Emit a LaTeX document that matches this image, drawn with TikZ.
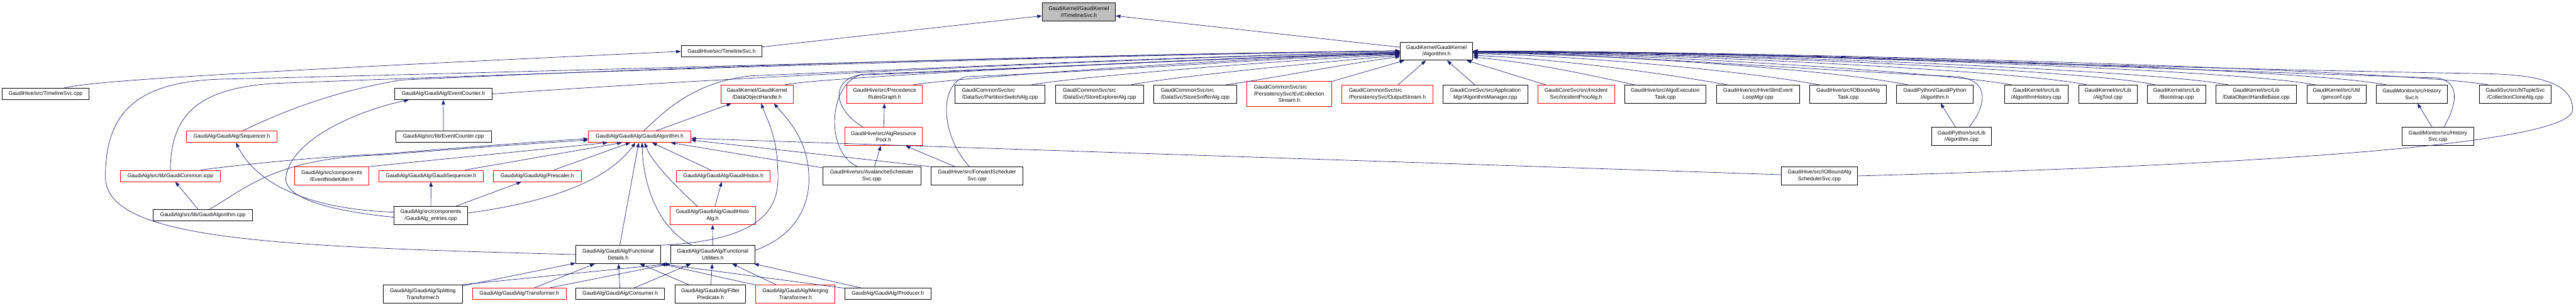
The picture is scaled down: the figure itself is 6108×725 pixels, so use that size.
\documentclass[tikz,border=0pt]{standalone}
\usepackage{fontspec}
\setmainfont{Liberation Sans}
\usetikzlibrary{arrows.meta}
\definecolor{dxedge}{HTML}{191970}
\definecolor{dxred}{HTML}{FF0000}
\definecolor{dxgray}{HTML}{BFBFBF}

\begin{document}
\begin{tikzpicture}[x=0.5pt, y=0.5pt,
        fnode/.style={draw=black, line width=0.6pt, fill=white, align=center, inner xsep=0pt, inner ysep=0pt,
                      minimum height=13.5pt, font=\fontsize{6.3}{7.9}\selectfont},
        rnode/.style={fnode, draw=dxred},
        tnode/.style={fnode, fill=dxgray},
        two/.style={minimum height=21.5pt},
        three/.style={minimum height=29.5pt},
        wd/.style={minimum width=#1*0.5pt},
        dep/.style={-{Triangle[length=5.5pt,width=4pt]}, draw=dxedge, line width=0.5pt}
      ]
        \useasboundingbox (0,-725) rectangle (6108,0);

        \node[tnode, two, wd=174] (itl)  at (2558,-28)    {GaudiKernel/GaudiKernel\\/ITimelineSvc.h};
        \node[fnode, wd=192]      (tsh)  at (1711,-122)   {GaudiHive/src/TimelineSvc.h};
        \node[fnode, two, wd=172] (algh) at (3406,-121.5) {GaudiKernel/GaudiKernel\\/Algorithm.h};

        \node[fnode, wd=205]      (tsc)  at (108,-223)    {GaudiHive/src/TimelineSvc.cpp};
        \node[fnode, wd=232]      (ech)  at (1051,-223)   {GaudiAlg/GaudiAlg/EventCounter.h};
        \node[rnode, two, wd=172] (doh)  at (1795,-223.5) {GaudiKernel/GaudiKernel\\/DataObjectHandle.h};
        \node[rnode, two, wd=179] (prg)  at (2097.5,-223.5) {GaudiHive/src/Precedence\\RulesGraph.h};
        \node[fnode, two, wd=214, align=left] (psa) at (2371,-223.5) {GaudiCommonSvc/src\\/DataSvc/PartitionSwitchAlg.cpp};
        \node[fnode, two, wd=208, align=left] (sea) at (2607,-223.5) {GaudiCommonSvc/src\\/DataSvc/StoreExplorerAlg.cpp};
        \node[fnode, two, wd=198, align=left] (ssa) at (2834,-223.5) {GaudiCommonSvc/src\\/DataSvc/StoreSnifferAlg.cpp};
        \node[rnode, three, wd=201, align=left] (ecs) at (3056.5,-222.5) {GaudiCommonSvc/src\\/PersistencySvc/EvtCollection\\\hspace*{29pt}Stream.h};
        \node[rnode, two, wd=217, align=left] (osh) at (3289.5,-223.5) {GaudiCommonSvc/src\\/PersistencySvc/OutputStream.h};
        \node[fnode, two, wd=200] (amc)  at (3522,-223.5) {GaudiCoreSvc/src/Application\\Mgr/AlgorithmManager.cpp};
        \node[rnode, two, wd=182] (ipa)  at (3737,-223.5) {GaudiCoreSvc/src/Incident\\Svc/IncidentProcAlg.h};
        \node[fnode, two, wd=193] (aet)  at (3948.5,-223.5) {GaudiHive/src/AlgoExecution\\Task.cpp};
        \node[fnode, two, wd=197] (hsl)  at (4168.5,-223.5) {GaudiHive/src/HiveSlimEvent\\LoopMgr.cpp};
        \node[fnode, two, wd=182] (iot)  at (4382,-223.5) {GaudiHive/src/IOBoundAlg\\Task.cpp};
        \node[fnode, two, wd=181] (gph)  at (4587.5,-223.5) {GaudiPython/GaudiPython\\/Algorithm.h};
        \node[fnode, two, wd=150] (ahc)  at (4828,-223.5) {GaudiKernel/src/Lib\\/AlgorithmHistory.cpp};
        \node[fnode, two, wd=138] (atc)  at (4998,-223.5) {GaudiKernel/src/Lib\\/AlgTool.cpp};
        \node[fnode, two, wd=138] (bsc)  at (5161,-223.5) {GaudiKernel/src/Lib\\/Bootstrap.cpp};
        \node[fnode, two, wd=191] (dhb)  at (5349.5,-223.5) {GaudiKernel/src/Lib\\/DataObjectHandleBase.cpp};
        \node[fnode, two, wd=140] (gcc)  at (5540,-223.5) {GaudiKernel/src/Util\\/genconf.cpp};
        \node[fnode, two, wd=169] (hsh)  at (5718.5,-223.5) {GaudiMonitor/src/History\\Svc.h};
        \node[fnode, two, wd=170] (cca)  at (5964,-223.5) {GaudiSvc/src/NTupleSvc\\/CollectionCloneAlg.cpp};

        \node[rnode, wd=215]      (seq)  at (549.5,-324.5) {GaudiAlg/GaudiAlg/Sequencer.h};
        \node[fnode, wd=227]      (ecc)  at (1051.5,-324.5) {GaudiAlg/src/lib/EventCounter.cpp};
        \node[rnode, wd=243]      (gah)  at (1516.5,-324.5) {GaudiAlg/GaudiAlg/GaudiAlgorithm.h};
        \node[rnode, two, wd=184] (arp)  at (2095,-324)   {GaudiHive/src/AlgResource\\Pool.h};
        \node[fnode, two, wd=142] (gpc)  at (4651,-324)   {GaudiPython/src/Lib\\/Algorithm.cpp};
        \node[fnode, two, wd=169] (hsc)  at (5780.5,-324) {GaudiMonitor/src/History\\Svc.cpp};

        \node[rnode, wd=236]      (gci)  at (404,-417.5)  {GaudiAlg/src/lib/GaudiCommon.icpp};
        \node[rnode, two, wd=175] (enk)  at (786.5,-417.5) {GaudiAlg/src/components\\/EventNodeKiller.h};
        \node[rnode, wd=248]      (gsq)  at (1022,-417.5) {GaudiAlg/GaudiAlg/GaudiSequencer.h};
        \node[rnode, wd=208]      (psc)  at (1274,-417.5) {GaudiAlg/GaudiAlg/Prescaler.h};
        \node[rnode, wd=222]      (ghs)  at (1715,-417.5) {GaudiAlg/GaudiAlg/GaudiHistos.h};
        \node[fnode, two, wd=232] (asc)  at (2067,-417.5) {GaudiHive/src/AvalancheScheduler\\Svc.cpp};
        \node[fnode, two, wd=219] (fsc)  at (2316.5,-417.5) {GaudiHive/src/ForwardScheduler\\Svc.cpp};
        \node[fnode, two, wd=180] (ibs)  at (4314,-417.5) {GaudiHive/src/IOBoundAlg\\SchedulerSvc.cpp};

        \node[fnode, wd=236]      (gac)  at (481,-510.5)  {GaudiAlg/src/lib/GaudiAlgorithm.cpp};
        \node[fnode, two, wd=175] (gae)  at (1021.5,-511.5) {GaudiAlg/src/components\\/GaudiAlg\_entries.cpp};
        \node[rnode, two, wd=203] (gha)  at (1689.5,-511.5) {GaudiAlg/GaudiAlg/GaudiHisto\\Alg.h};

        \node[fnode, two, wd=201] (fdh)  at (1465.5,-604) {GaudiAlg/GaudiAlg/Functional\\Details.h};
        \node[fnode, two, wd=200] (fuh)  at (1690,-604)   {GaudiAlg/GaudiAlg/Functional\\Utilities.h};

        \node[fnode, two, wd=187] (sth)  at (1002.5,-697.5) {GaudiAlg/GaudiAlg/Splitting\\Transformer.h};
        \node[rnode, wd=222]      (trh)  at (1231,-697.5) {GaudiAlg/GaudiAlg/Transformer.h};
        \node[fnode, wd=211]      (coh)  at (1470.5,-697.5) {GaudiAlg/GaudiAlg/Consumer.h};
        \node[fnode, two, wd=167] (fph)  at (1684.5,-697.5) {GaudiAlg/GaudiAlg/Filter\\Predicate.h};
        \node[rnode, two, wd=188] (mth)  at (1886,-697.5) {GaudiAlg/GaudiAlg/Merging\\Transformer.h};
        \node[fnode, wd=204]      (prh)  at (2105,-697.5) {GaudiAlg/GaudiAlg/Producer.h};

        \draw[dep] (tsh) -- (itl);
        \draw[dep] (algh) -- (itl);
        \draw[dep] ([xshift=22pt]tsc.north) .. controls (200,-196) and (400,-178) .. (tsh.west);

        \draw[dep] (ech.east) .. controls (1700,-186) and (2600,-140) .. ([yshift=-1pt]algh.west);
        \draw[dep] (gci.north) .. controls (405,-280) and (460,-210) .. (650,-198) .. controls (1500,-165) and (2700,-128) .. (algh.west);
        \draw[dep] ([xshift=13pt]seq.north) .. controls (700,-250) and (820,-212) .. (950,-190) .. controls (1800,-150) and (2700,-128) .. ([yshift=0.5pt]algh.west);
        \draw[dep] (fdh.west) .. controls (650,-585) and (250,-570) .. (250,-420) .. controls (250,-270) and (320,-195) .. (520,-188) .. controls (1500,-165) and (2700,-126) .. (algh.west);
        \draw[dep] ([xshift=5pt]gah.north) .. controls (1570,-270) and (1640,-195) .. (1780,-180) .. controls (2300,-158) and (2900,-130) .. ([yshift=-1.5pt]algh.west);
        \draw[dep] ([xshift=33pt]doh.north) .. controls (1920,-185) and (2800,-140) .. ([yshift=-2pt]algh.west);
        \draw[dep] ([xshift=34pt]prg.north) .. controls (2260,-185) and (2900,-140) .. ([yshift=-2pt]algh.west);
        \draw[dep] ([xshift=-24pt]arp.north) .. controls (1975,-260) and (1965,-185) .. (2050,-176) .. controls (2500,-160) and (3000,-132) .. ([yshift=-2.5pt]algh.west);
        \draw[dep] ([xshift=-17pt]asc.north) .. controls (1955,-360) and (1965,-200) .. (2040,-178) .. controls (2500,-160) and (3000,-133) .. ([yshift=-3pt]algh.west);
        \draw[dep] ([xshift=-9pt]fsc.north) .. controls (2230,-320) and (2225,-200) .. (2290,-182) .. controls (2700,-165) and (3050,-135) .. ([yshift=-3.5pt]algh.west);
        \draw[dep] ([xshift=37pt]psa.north) .. controls (2530,-185) and (3000,-145) .. ([yshift=-4pt]algh.west);
        \draw[dep] ([xshift=37pt]sea.north) .. controls (2760,-185) and (3100,-150) .. ([yshift=-5pt]algh.west);
        \draw[dep] ([xshift=36pt]ssa.north) .. controls (2990,-190) and (3200,-150) .. ([yshift=-6.5pt]algh.west);
        \draw[dep] (ecs) -- (algh);
        \draw[dep] (osh) -- (algh);
        \draw[dep] (amc) -- (algh);
        \draw[dep] (ipa) -- (algh);
        \draw[dep] ([xshift=-36pt]aet.north) .. controls (3800,-185) and (3650,-150) .. ([yshift=-7pt]algh.east);
        \draw[dep] ([xshift=-36pt]hsl.north) .. controls (3950,-175) and (3700,-140) .. ([yshift=-5pt]algh.east);
        \draw[dep] ([xshift=-34pt]iot.north) .. controls (4150,-170) and (3750,-132) .. ([yshift=-3pt]algh.east);
        \draw[dep] ([xshift=-32pt]gph.north) .. controls (4350,-165) and (3800,-128) .. ([yshift=-2pt]algh.east);
        \draw[dep] ([xshift=9pt]gpc.north) .. controls (4710,-250) and (4720,-190) .. (4640,-182) .. controls (4200,-160) and (3800,-128) .. ([yshift=-1.5pt]algh.east);
        \draw[dep] ([xshift=-29pt]ahc.north) .. controls (4600,-170) and (3900,-128) .. ([yshift=-1pt]algh.east);
        \draw[dep] ([xshift=-25pt]atc.north) .. controls (4800,-168) and (3950,-126) .. ([yshift=-1pt]algh.east);
        \draw[dep] ([xshift=-25pt]bsc.north) .. controls (4950,-165) and (4000,-125) .. ([yshift=-0.5pt]algh.east);
        \draw[dep] ([xshift=-33pt]dhb.north) .. controls (5100,-165) and (4050,-124) .. ([yshift=-0.5pt]algh.east);
        \draw[dep] ([xshift=-25pt]gcc.north) .. controls (5300,-163) and (4100,-123) .. (algh.east);
        \draw[dep] ([xshift=-30pt]hsh.north) .. controls (5450,-160) and (4150,-122) .. (algh.east);
        \draw[dep] ([xshift=7pt]hsc.north) .. controls (5830,-240) and (5830,-195) .. (5780,-185) .. controls (5000,-160) and (4200,-122) .. (algh.east);
        \draw[dep] ([xshift=-32pt]cca.north) .. controls (5700,-165) and (4200,-121) .. (algh.east);
        \draw[dep] (ibs.east) .. controls (5400,-390) and (6100,-340) .. (6100,-260) .. controls (6100,-190) and (6000,-178) .. (5900,-175) .. controls (5000,-160) and (4000,-121) .. (algh.east);

        \draw[dep] ([xshift=8pt]gac.north) .. controls (580,-450) and (650,-375) .. (900,-368) .. controls (1100,-352) and (1300,-338) .. ([yshift=-4pt]gah.west);
        \draw[dep] ([xshift=36pt]gci.north) .. controls (560,-392) and (750,-372) .. (900,-366) .. controls (1100,-350) and (1300,-334) .. ([yshift=-2.5pt]gah.west);
        \draw[dep] (enk.north east) -- ([xshift=-38pt]gah.south);
        \draw[dep] (gsq) -- ([xshift=-21pt]gah.south);
        \draw[dep] (psc) -- ([xshift=-11pt]gah.south);
        \draw[dep] ([yshift=3pt]gae.east) .. controls (1300,-480) and (1440,-430) .. ([xshift=-5pt]gah.south);
        \draw[dep] (fdh) -- ([xshift=-1pt]gah.south);
        \draw[dep] ([xshift=-25pt]fuh.north) .. controls (1560,-540) and (1525,-440) .. ([xshift=3pt]gah.south);
        \draw[dep] ([xshift=-18pt]gha.north) .. controls (1605,-445) and (1545,-385) .. ([xshift=6pt]gah.south);
        \draw[dep] (ghs) -- ([xshift=15pt]gah.south);
        \draw[dep] (asc) -- ([xshift=37pt]gah.south);
        \draw[dep] (fsc.north west) -- ([yshift=-4pt]gah.east);
        \draw[dep] (ibs) -- (gah);

        \draw[dep] (gah) -- (doh);
        \draw[dep] (fdh.north east) .. controls (1830,-570) and (1850,-480) .. (1844,-400) .. controls (1842,-320) and (1815,-275) .. ([xshift=5pt]doh.south);
        \draw[dep] ([yshift=5pt]fuh.east) .. controls (1885,-560) and (1920,-490) .. (1918,-420) .. controls (1916,-330) and (1865,-280) .. ([xshift=20pt]doh.south);

        \draw[dep] (gac) -- (gci);
        \draw[dep] (ecc) -- (ech);
        \draw[dep] ([yshift=-2pt]gae.west) .. controls (780,-500) and (672,-470) .. (678,-420) .. controls (690,-330) and (850,-262) .. ([xshift=-41pt]ech.south);
        \draw[dep] ([yshift=4pt]gae.west) .. controls (700,-495) and (600,-420) .. ([xshift=5pt]seq.south);
        \draw[dep] (gae) -- (gsq);
        \draw[dep] (gae) -- (psc);
        \draw[dep] (gha) -- (ghs);
        \draw[dep] (fuh) -- (gha);

        \draw[dep] (arp) -- (prg);
        \draw[dep] (asc) -- (arp);
        \draw[dep] (fsc) -- (arp);
        \draw[dep] (gpc) -- (gph);
        \draw[dep] (hsc) -- (hsh);

        \draw[dep] (sth) -- (fdh);
        \draw[dep] (sth.north east) -- (fuh.south west);
        \draw[dep] (trh) -- (fdh);
        \draw[dep] (trh) -- (fuh.south west);
        \draw[dep] (coh) -- (fdh);
        \draw[dep] (coh) -- (fuh);
        \draw[dep] (fph) -- (fdh);
        \draw[dep] (fph) -- (fuh);
        \draw[dep] (mth) -- (fdh.south east);
        \draw[dep] (mth) -- (fuh);
        \draw[dep] (prh) -- (fdh.south east);
        \draw[dep] (prh) -- (fuh);
      \end{tikzpicture}
\end{document}
